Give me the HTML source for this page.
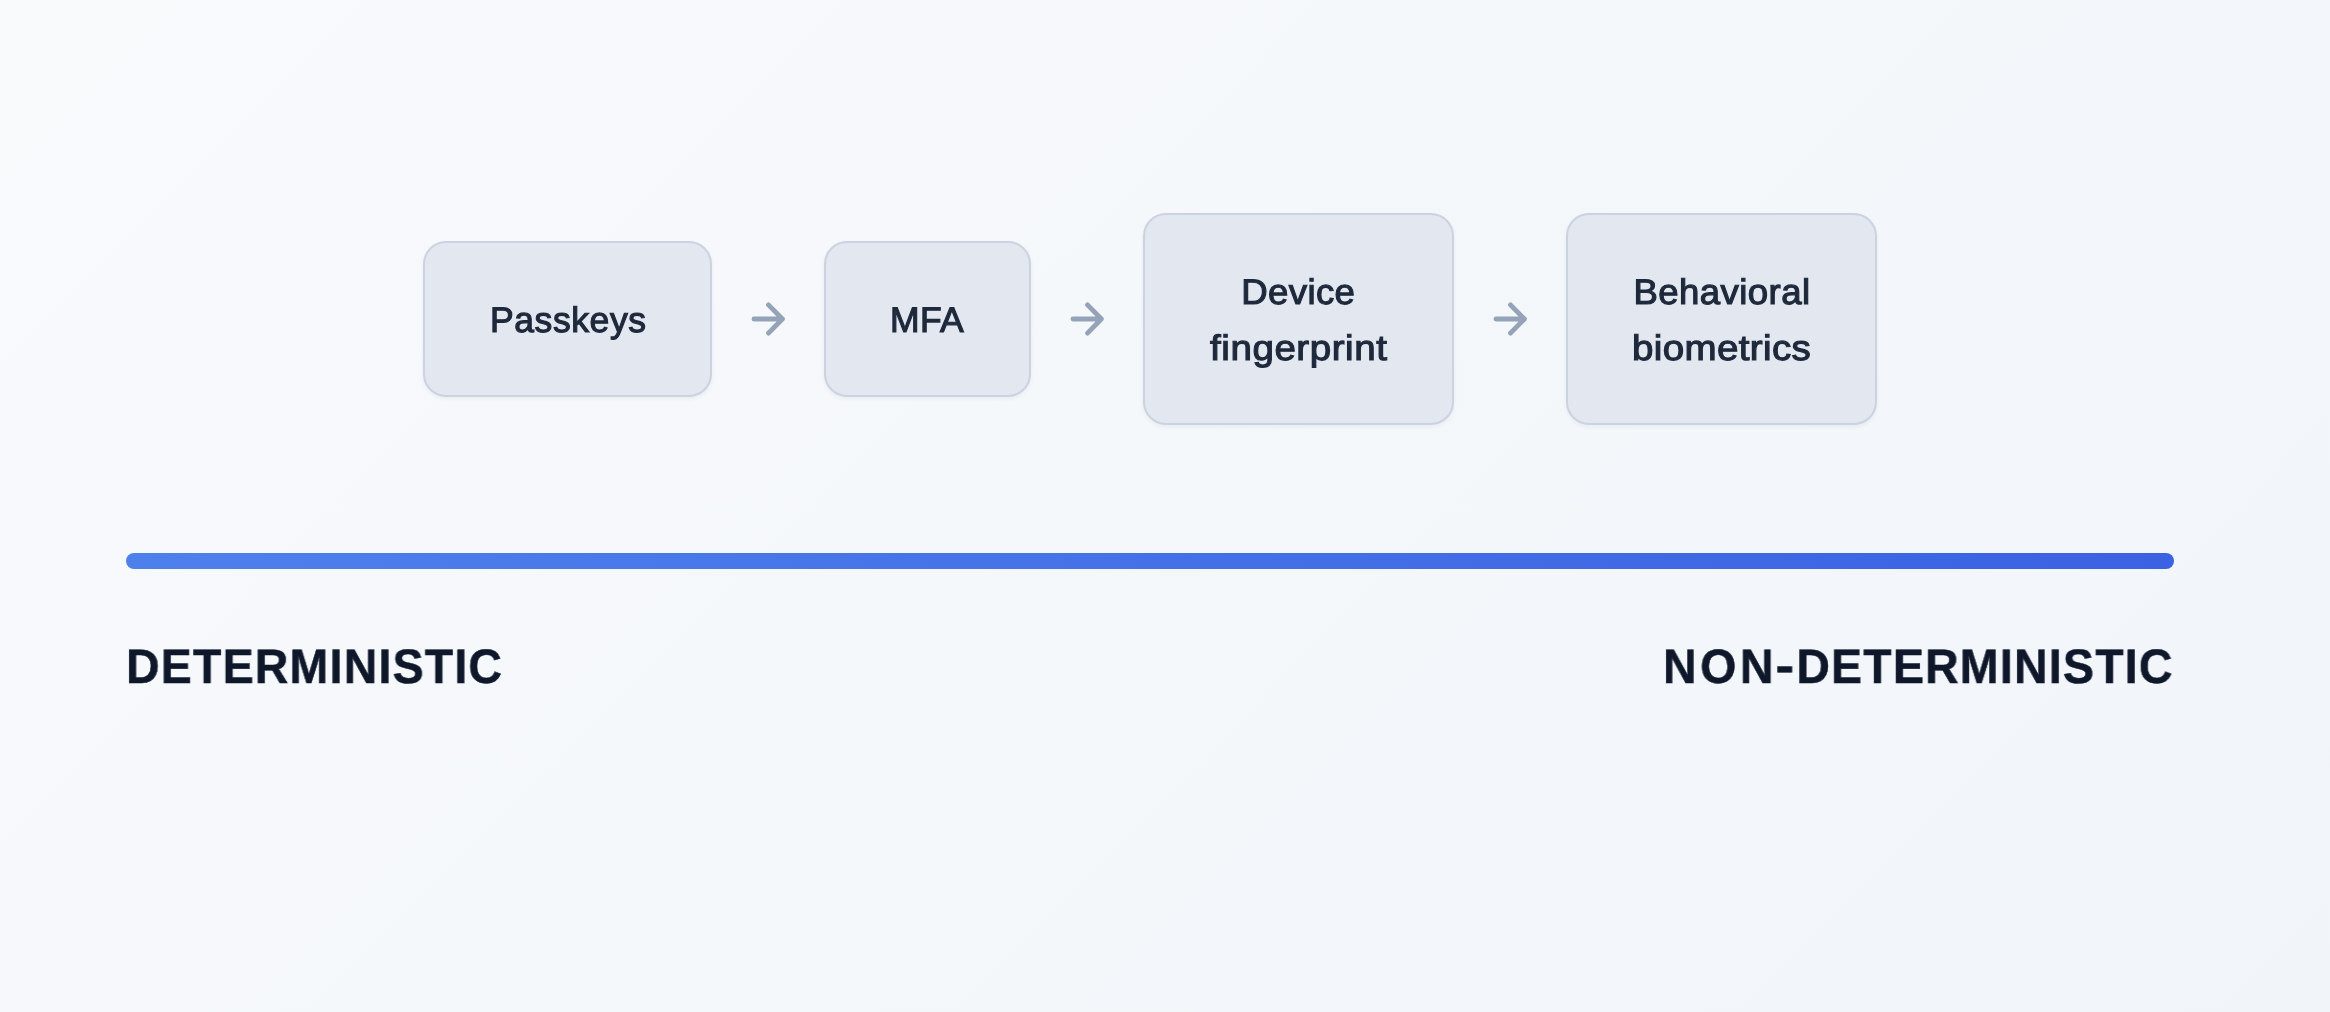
<!DOCTYPE html>
<html lang="en">
<head>
<meta charset="utf-8">
<title>Deterministic to non-deterministic</title>
<style>
  html, body { margin: 0; padding: 0; overflow: hidden; }
  body {
    width: 2330px; height: 1012px; overflow: hidden; position: relative;
    background: linear-gradient(135deg, #f8fafc 0%, #f1f5f9 100%);
    font-family: "Liberation Sans", sans-serif;
    text-rendering: geometricPrecision;
  }
  .box {
    position: absolute; box-sizing: border-box;
    background: #e3e7f0; border: 2px solid #cbd3e1; border-radius: 23px;
    box-shadow: 0 2px 4px rgba(15, 23, 42, 0.05);
    display: flex; flex-direction: column; align-items: center; justify-content: center; text-align: center;
    color: #1e293b; font-size: 35.5px; line-height: 56px; font-weight: 400;
    -webkit-text-stroke: 1.15px #1e293b;
    white-space: nowrap;
  }
  .box i {
    font-style: normal; display: block; position: relative; top: 1px; height: 56px;
    transform: scaleX(1.04); transform-origin: 50% 50%;
  }
  .box .t { display: flex; flex-direction: column; align-items: center; will-change: transform; }
  .hy { display: inline-block; position: relative; top: -1px; transform: scaleX(1.2); transform-origin: 45% 50%; }
  .arrow { position: absolute; width: 64px; height: 64px; }
  .bar {
    position: absolute; left: 126px; top: 553px; width: 2048px; height: 16px; border-radius: 8px;
    background: linear-gradient(90deg, #4e80ec 0%, #3a62e2 100%);
  }
  .label {
    position: absolute; top: 639px; font-size: 48.5px; line-height: 56px; font-weight: 700;
    color: #0f172a; white-space: nowrap; will-change: transform;
    -webkit-text-stroke: 0.5px #0f172a;
  }
</style>
</head>
<body>
  <div class="box" style="left:423px; top:241px; width:289px; height:156px;"><span class="t"><i style="letter-spacing:0.577px; left:1.04px; transform:scaleX(1.0);">Passkeys</i></span></div>
  <svg class="arrow" style="left:736px; top:287px;" viewBox="0 0 32 32" fill="none" stroke="#94a3b8" stroke-width="2.45" stroke-linecap="round" stroke-linejoin="round"><path d="M9 16H23.2M16.25 8.95l6.95 7.05-6.95 7.05"/></svg>
  <div class="box" style="left:824px; top:241px; width:207px; height:156px;"><span class="t"><i style="letter-spacing:0.363px; left:-0.06px; transform:scaleX(1.0);">MFA</i></span></div>
  <svg class="arrow" style="left:1055px; top:287px;" viewBox="0 0 32 32" fill="none" stroke="#94a3b8" stroke-width="2.45" stroke-linecap="round" stroke-linejoin="round"><path d="M9 16H23.2M16.25 8.95l6.95 7.05-6.95 7.05"/></svg>
  <div class="box" style="left:1143px; top:213px; width:311px; height:212px;"><span class="t"><i style="letter-spacing:0.356px; left:0.05px; transform:scaleX(1.03);">Device</i><i style="letter-spacing:0.513px; left:-0.3px; transform:scaleX(1.085);">fingerprint</i></span></div>
  <svg class="arrow" style="left:1478px; top:287px;" viewBox="0 0 32 32" fill="none" stroke="#94a3b8" stroke-width="2.45" stroke-linecap="round" stroke-linejoin="round"><path d="M9 16H23.2M16.25 8.95l6.95 7.05-6.95 7.05"/></svg>
  <div class="box" style="left:1566px; top:213px; width:311px; height:212px;"><span class="t"><i style="letter-spacing:0.421px; left:-0.34px; transform:scaleX(1.03);">Behavioral</i><i style="letter-spacing:0.344px; left:-0.57px; transform:scaleX(1.085);">biometrics</i></span></div>

  <div class="bar"></div>
  <div class="label" style="left:126px; letter-spacing:1.242px; transform: scaleX(0.959); transform-origin: 0 50%;">DETERMINISTIC</div>
  <div class="label" style="left:1663px; letter-spacing:3.755px; transform: scaleX(0.959); transform-origin: 0 50%;">NON<span class="hy">-</span><span style="letter-spacing:1.258px;">DETERMINISTIC</span></div>
</body>
</html>
